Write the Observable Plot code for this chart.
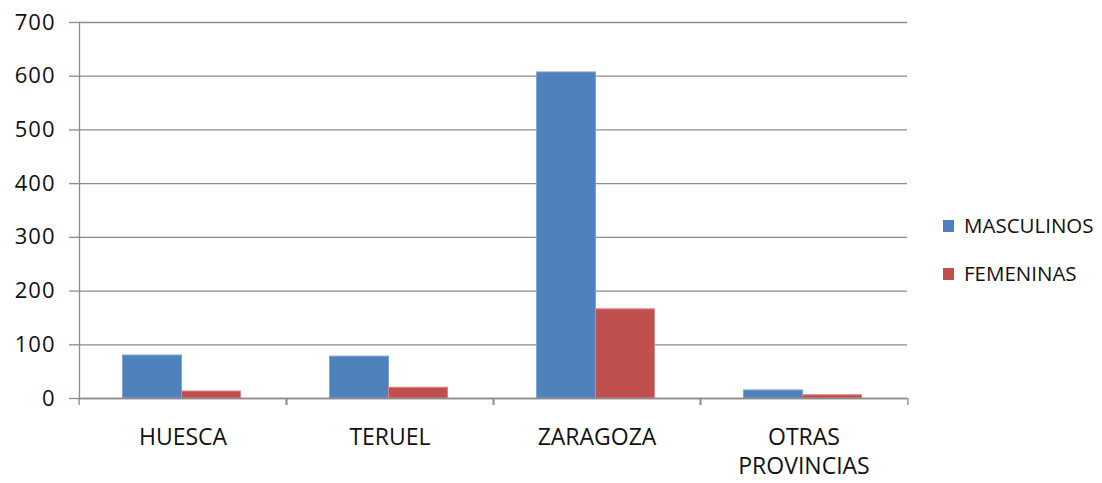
<!DOCTYPE html>
<html><head><meta charset="utf-8">
<script src="https://cdn.jsdelivr.net/npm/d3@7"></script>
<script src="https://cdn.jsdelivr.net/npm/@observablehq/plot@0.6"></script>
<style>
body{margin:0;background:#fff;}
#wrap{position:relative;width:1102px;height:483px;font-family:"Open Sans",sans-serif;}
#wrap svg{position:absolute;left:0;top:0;}
#legend{position:absolute;left:943px;top:205px;font-size:20.5px;color:#111;}
.item{position:relative;height:48px;line-height:40px;padding-left:21px;white-space:nowrap;}
.sw{position:absolute;left:0;top:15px;width:11px;height:12px;}
g[aria-label="y-axis tick label"] text{letter-spacing:1px;}
</style></head><body><div id="wrap"></div>
<script>
const provincias = ["HUESCA", "TERUEL", "ZARAGOZA", "OTRAS PROVINCIAS"];
const series = ["MASCULINOS", "FEMENINAS"];
const masculinos = [80, 78, 607, 15];
const femeninas = [13, 20, 166, 6];
const yTicks = [0, 100, 200, 300, 400, 500, 600, 700];
const colors = ["#4F81BD", "#C0504D"];
const edgeColors = ["#7FA3D3", "#D98583"];

const data = provincias.flatMap((p, i) => [
  {prov: p, serie: series[0], value: masculinos[i]},
  {prov: p, serie: series[1], value: femeninas[i]}
]);

const W = 1102, H = 483, ML = 77, MR = 194, MT = 22, MB = 85;
const half = (W - ML - MR) / provincias.length / 2;
const gray = "#8c8c8c";

const chart = Plot.plot({
  width: W, height: H,
  marginLeft: ML, marginRight: MR, marginTop: MT, marginBottom: MB,
  style: {fontFamily: "'Open Sans', sans-serif", background: "transparent", color: "#111"},
  fx: {domain: provincias, padding: 0, label: null},
  x: {domain: series, paddingInner: 0, paddingOuter: 0.746, axis: null},
  y: {domain: [0, 700], label: null},
  color: {domain: series, range: colors},
  marks: [
    Plot.gridY(yTicks, {stroke: gray, strokeOpacity: 1, strokeWidth: 1.3}),
    Plot.barY(data, {fx: "prov", x: "serie", y: "value", fill: "serie",
      stroke: d => edgeColors[series.indexOf(d.serie)], strokeWidth: 1, dx: -1.5}),
    Plot.ruleY([0], {stroke: gray, strokeWidth: 1.3}),
    Plot.frame({anchor: "left", facetAnchor: "left", stroke: gray, strokeWidth: 1.3}),
    Plot.axisY(yTicks, {anchor: "left", tickSize: 10, tickPadding: 14, fontSize: 22,
      stroke: gray, strokeWidth: 1.3, fill: "#111", label: null}),
    Plot.axisFx({anchor: "bottom", tickSize: 7, dx: -half, tickFormat: () => "",
      stroke: gray, strokeWidth: 1.3, label: null}),
    Plot.axisFx({anchor: "bottom", tickSize: 7, dx: half, tickFormat: () => "",
      stroke: gray, strokeWidth: 1.3, label: null}),
    Plot.axisFx({anchor: "bottom", tickSize: 0, tickPadding: 26, fontSize: 23,
      lineHeight: 1.27, fill: "#111", label: null,
      tickFormat: d => d.replace(" ", "\n")})
  ]
});

const wrap = document.getElementById("wrap");
wrap.appendChild(chart);
const legend = document.createElement("div");
legend.id = "legend";
series.forEach((s, i) => {
  const item = document.createElement("div");
  item.className = "item";
  item.innerHTML = `<span class="sw" style="background:${colors[i]}"></span>${s}`;
  legend.appendChild(item);
});
wrap.appendChild(legend);
</script>
</body></html>
